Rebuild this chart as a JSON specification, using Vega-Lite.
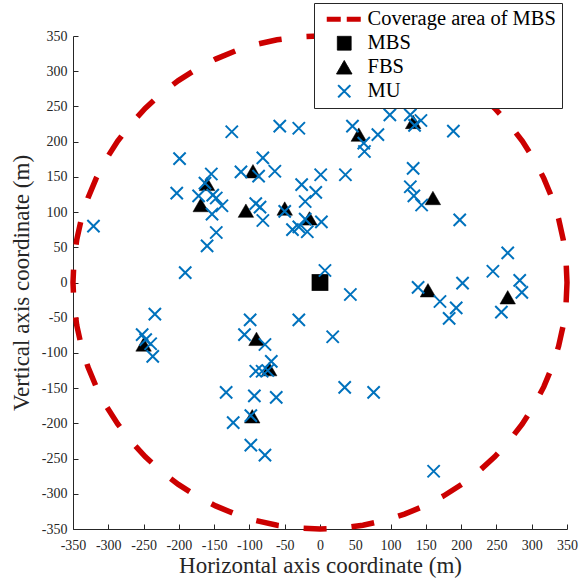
{
  "$schema": "https://vega.github.io/schema/vega-lite/v6.json",
  "autosize": {"type": "none"},
  "padding": {"left": 73, "top": 36, "right": 12, "bottom": 55},
  "width": 494,
  "height": 493,
  "background": "white",
  "config": {
    "view": {"stroke": null},
    "font": "Liberation Serif",
    "axis": {
      "grid": false,
      "domainColor": "#262626",
      "tickColor": "#262626",
      "labelColor": "#262626",
      "titleColor": "#262626",
      "labelFont": "Liberation Serif",
      "titleFont": "Liberation Serif",
      "labelFontSize": 14,
      "titleFontSize": 23,
      "titleFontWeight": "normal",
      "tickSize": -5,
      "domainWidth": 1,
      "tickWidth": 1,
      "labelFlush": false,
      "labelOverlap": false
    }
  },
  "datasets": {
    "circle": [
      {"x": 350, "y": 0, "i": 0, "series": "Coverage area of MBS"},
      {"x": 348.67, "y": 30.5, "i": 1, "series": "Coverage area of MBS"},
      {"x": 344.68, "y": 60.78, "i": 2, "series": "Coverage area of MBS"},
      {"x": 338.07, "y": 90.59, "i": 3, "series": "Coverage area of MBS"},
      {"x": 328.89, "y": 119.71, "i": 4, "series": "Coverage area of MBS"},
      {"x": 317.21, "y": 147.92, "i": 5, "series": "Coverage area of MBS"},
      {"x": 303.11, "y": 175, "i": 6, "series": "Coverage area of MBS"},
      {"x": 286.7, "y": 200.75, "i": 7, "series": "Coverage area of MBS"},
      {"x": 268.12, "y": 224.98, "i": 8, "series": "Coverage area of MBS"},
      {"x": 247.49, "y": 247.49, "i": 9, "series": "Coverage area of MBS"},
      {"x": 224.98, "y": 268.12, "i": 10, "series": "Coverage area of MBS"},
      {"x": 200.75, "y": 286.7, "i": 11, "series": "Coverage area of MBS"},
      {"x": 175, "y": 303.11, "i": 12, "series": "Coverage area of MBS"},
      {"x": 147.92, "y": 317.21, "i": 13, "series": "Coverage area of MBS"},
      {"x": 119.71, "y": 328.89, "i": 14, "series": "Coverage area of MBS"},
      {"x": 90.59, "y": 338.07, "i": 15, "series": "Coverage area of MBS"},
      {"x": 60.78, "y": 344.68, "i": 16, "series": "Coverage area of MBS"},
      {"x": 30.5, "y": 348.67, "i": 17, "series": "Coverage area of MBS"},
      {"x": 0, "y": 350, "i": 18, "series": "Coverage area of MBS"},
      {"x": -30.5, "y": 348.67, "i": 19, "series": "Coverage area of MBS"},
      {"x": -60.78, "y": 344.68, "i": 20, "series": "Coverage area of MBS"},
      {"x": -90.59, "y": 338.07, "i": 21, "series": "Coverage area of MBS"},
      {"x": -119.71, "y": 328.89, "i": 22, "series": "Coverage area of MBS"},
      {"x": -147.92, "y": 317.21, "i": 23, "series": "Coverage area of MBS"},
      {"x": -175, "y": 303.11, "i": 24, "series": "Coverage area of MBS"},
      {"x": -200.75, "y": 286.7, "i": 25, "series": "Coverage area of MBS"},
      {"x": -224.98, "y": 268.12, "i": 26, "series": "Coverage area of MBS"},
      {"x": -247.49, "y": 247.49, "i": 27, "series": "Coverage area of MBS"},
      {"x": -268.12, "y": 224.98, "i": 28, "series": "Coverage area of MBS"},
      {"x": -286.7, "y": 200.75, "i": 29, "series": "Coverage area of MBS"},
      {"x": -303.11, "y": 175, "i": 30, "series": "Coverage area of MBS"},
      {"x": -317.21, "y": 147.92, "i": 31, "series": "Coverage area of MBS"},
      {"x": -328.89, "y": 119.71, "i": 32, "series": "Coverage area of MBS"},
      {"x": -338.07, "y": 90.59, "i": 33, "series": "Coverage area of MBS"},
      {"x": -344.68, "y": 60.78, "i": 34, "series": "Coverage area of MBS"},
      {"x": -348.67, "y": 30.5, "i": 35, "series": "Coverage area of MBS"},
      {"x": -350, "y": 0, "i": 36, "series": "Coverage area of MBS"},
      {"x": -348.67, "y": -30.5, "i": 37, "series": "Coverage area of MBS"},
      {"x": -344.68, "y": -60.78, "i": 38, "series": "Coverage area of MBS"},
      {"x": -338.07, "y": -90.59, "i": 39, "series": "Coverage area of MBS"},
      {"x": -328.89, "y": -119.71, "i": 40, "series": "Coverage area of MBS"},
      {"x": -317.21, "y": -147.92, "i": 41, "series": "Coverage area of MBS"},
      {"x": -303.11, "y": -175, "i": 42, "series": "Coverage area of MBS"},
      {"x": -286.7, "y": -200.75, "i": 43, "series": "Coverage area of MBS"},
      {"x": -268.12, "y": -224.98, "i": 44, "series": "Coverage area of MBS"},
      {"x": -247.49, "y": -247.49, "i": 45, "series": "Coverage area of MBS"},
      {"x": -224.98, "y": -268.12, "i": 46, "series": "Coverage area of MBS"},
      {"x": -200.75, "y": -286.7, "i": 47, "series": "Coverage area of MBS"},
      {"x": -175, "y": -303.11, "i": 48, "series": "Coverage area of MBS"},
      {"x": -147.92, "y": -317.21, "i": 49, "series": "Coverage area of MBS"},
      {"x": -119.71, "y": -328.89, "i": 50, "series": "Coverage area of MBS"},
      {"x": -90.59, "y": -338.07, "i": 51, "series": "Coverage area of MBS"},
      {"x": -60.78, "y": -344.68, "i": 52, "series": "Coverage area of MBS"},
      {"x": -30.5, "y": -348.67, "i": 53, "series": "Coverage area of MBS"},
      {"x": 0, "y": -350, "i": 54, "series": "Coverage area of MBS"},
      {"x": 30.5, "y": -348.67, "i": 55, "series": "Coverage area of MBS"},
      {"x": 60.78, "y": -344.68, "i": 56, "series": "Coverage area of MBS"},
      {"x": 90.59, "y": -338.07, "i": 57, "series": "Coverage area of MBS"},
      {"x": 119.71, "y": -328.89, "i": 58, "series": "Coverage area of MBS"},
      {"x": 147.92, "y": -317.21, "i": 59, "series": "Coverage area of MBS"},
      {"x": 175, "y": -303.11, "i": 60, "series": "Coverage area of MBS"},
      {"x": 200.75, "y": -286.7, "i": 61, "series": "Coverage area of MBS"},
      {"x": 224.98, "y": -268.12, "i": 62, "series": "Coverage area of MBS"},
      {"x": 247.49, "y": -247.49, "i": 63, "series": "Coverage area of MBS"},
      {"x": 268.12, "y": -224.98, "i": 64, "series": "Coverage area of MBS"},
      {"x": 286.7, "y": -200.75, "i": 65, "series": "Coverage area of MBS"},
      {"x": 303.11, "y": -175, "i": 66, "series": "Coverage area of MBS"},
      {"x": 317.21, "y": -147.92, "i": 67, "series": "Coverage area of MBS"},
      {"x": 328.89, "y": -119.71, "i": 68, "series": "Coverage area of MBS"},
      {"x": 338.07, "y": -90.59, "i": 69, "series": "Coverage area of MBS"},
      {"x": 344.68, "y": -60.78, "i": 70, "series": "Coverage area of MBS"},
      {"x": 348.67, "y": -30.5, "i": 71, "series": "Coverage area of MBS"},
      {"x": 350, "y": 0, "i": 72, "series": "Coverage area of MBS"}
    ],
    "mbs": [{"x": 0, "y": 0, "series": "MBS"}],
    "fbs": [
      {"x": -95, "y": 158, "series": "FBS"},
      {"x": -160, "y": 140, "series": "FBS"},
      {"x": -169, "y": 110, "series": "FBS"},
      {"x": -105, "y": 102, "series": "FBS"},
      {"x": -50, "y": 105, "series": "FBS"},
      {"x": -15, "y": 91, "series": "FBS"},
      {"x": 55, "y": 210, "series": "FBS"},
      {"x": 132, "y": 228, "series": "FBS"},
      {"x": 160, "y": 120, "series": "FBS"},
      {"x": 153, "y": -11, "series": "FBS"},
      {"x": 266, "y": -21, "series": "FBS"},
      {"x": -90, "y": -80, "series": "FBS"},
      {"x": -72, "y": -123, "series": "FBS"},
      {"x": -96, "y": -190, "series": "FBS"},
      {"x": -250, "y": -88, "series": "FBS"}
    ],
    "mu": [
      {"x": -321, "y": 80, "series": "MU"},
      {"x": -125, "y": 214, "series": "MU"},
      {"x": -57, "y": 222, "series": "MU"},
      {"x": -30, "y": 219, "series": "MU"},
      {"x": -199, "y": 176, "series": "MU"},
      {"x": -81, "y": 177, "series": "MU"},
      {"x": -112, "y": 157, "series": "MU"},
      {"x": -87, "y": 151, "series": "MU"},
      {"x": -64, "y": 158, "series": "MU"},
      {"x": 1, "y": 153, "series": "MU"},
      {"x": -154, "y": 154, "series": "MU"},
      {"x": -163, "y": 141, "series": "MU"},
      {"x": -203, "y": 127, "series": "MU"},
      {"x": -172, "y": 123, "series": "MU"},
      {"x": -152, "y": 124, "series": "MU"},
      {"x": -147, "y": 120, "series": "MU"},
      {"x": -139, "y": 109, "series": "MU"},
      {"x": -153, "y": 97, "series": "MU"},
      {"x": -91, "y": 112, "series": "MU"},
      {"x": -85, "y": 107, "series": "MU"},
      {"x": -81, "y": 88, "series": "MU"},
      {"x": -26, "y": 139, "series": "MU"},
      {"x": -6, "y": 128, "series": "MU"},
      {"x": -21, "y": 115, "series": "MU"},
      {"x": -50, "y": 101, "series": "MU"},
      {"x": -21, "y": 90, "series": "MU"},
      {"x": 2, "y": 86, "series": "MU"},
      {"x": -39, "y": 75, "series": "MU"},
      {"x": -18, "y": 72, "series": "MU"},
      {"x": -30, "y": 79, "series": "MU"},
      {"x": -147, "y": 71, "series": "MU"},
      {"x": -160, "y": 52, "series": "MU"},
      {"x": -191, "y": 14, "series": "MU"},
      {"x": 46, "y": 222, "series": "MU"},
      {"x": 99, "y": 238, "series": "MU"},
      {"x": 128, "y": 238, "series": "MU"},
      {"x": 134, "y": 223, "series": "MU"},
      {"x": 143, "y": 230, "series": "MU"},
      {"x": 82, "y": 210, "series": "MU"},
      {"x": 189, "y": 215, "series": "MU"},
      {"x": 62, "y": 198, "series": "MU"},
      {"x": 63, "y": 186, "series": "MU"},
      {"x": 36, "y": 153, "series": "MU"},
      {"x": 132, "y": 162, "series": "MU"},
      {"x": 128, "y": 136, "series": "MU"},
      {"x": 133, "y": 123, "series": "MU"},
      {"x": 144, "y": 110, "series": "MU"},
      {"x": 198, "y": 89, "series": "MU"},
      {"x": 266, "y": 42, "series": "MU"},
      {"x": 245, "y": 16, "series": "MU"},
      {"x": 283, "y": 3, "series": "MU"},
      {"x": 286, "y": -14, "series": "MU"},
      {"x": 257, "y": -42, "series": "MU"},
      {"x": 139, "y": -7, "series": "MU"},
      {"x": 170, "y": -27, "series": "MU"},
      {"x": 202, "y": -1, "series": "MU"},
      {"x": 193, "y": -36, "series": "MU"},
      {"x": 183, "y": -51, "series": "MU"},
      {"x": 7, "y": 17, "series": "MU"},
      {"x": 43, "y": -17, "series": "MU"},
      {"x": 18, "y": -77, "series": "MU"},
      {"x": 35, "y": -149, "series": "MU"},
      {"x": 76, "y": -156, "series": "MU"},
      {"x": 161, "y": -268, "series": "MU"},
      {"x": -30, "y": -53, "series": "MU"},
      {"x": -99, "y": -53, "series": "MU"},
      {"x": -107, "y": -74, "series": "MU"},
      {"x": -78, "y": -88, "series": "MU"},
      {"x": -69, "y": -112, "series": "MU"},
      {"x": -91, "y": -126, "series": "MU"},
      {"x": -82, "y": -126, "series": "MU"},
      {"x": -74, "y": -125, "series": "MU"},
      {"x": -133, "y": -156, "series": "MU"},
      {"x": -93, "y": -161, "series": "MU"},
      {"x": -62, "y": -163, "series": "MU"},
      {"x": -98, "y": -189, "series": "MU"},
      {"x": -123, "y": -199, "series": "MU"},
      {"x": -98, "y": -231, "series": "MU"},
      {"x": -78, "y": -245, "series": "MU"},
      {"x": -234, "y": -45, "series": "MU"},
      {"x": -252, "y": -74, "series": "MU"},
      {"x": -247, "y": -81, "series": "MU"},
      {"x": -240, "y": -87, "series": "MU"},
      {"x": -237, "y": -105, "series": "MU"}
    ]
  },
  "encoding": {
    "x": {
      "field": "x",
      "type": "quantitative",
      "scale": {"domain": [-350, 350], "nice": false, "zero": false},
      "axis": {
        "title": "Horizontal axis coordinate (m)",
        "values": [-350, -300, -250, -200, -150, -100, -50, 0, 50, 100, 150, 200, 250, 300, 350],
        "labelExpr": "datum.value + ''",
        "labelPadding": 14,
        "titlePadding": 2
      }
    },
    "y": {
      "field": "y",
      "type": "quantitative",
      "scale": {"domain": [-350, 350], "nice": false, "zero": false},
      "axis": {
        "title": "Vertical axis coordinate (m)",
        "values": [-350, -300, -250, -200, -150, -100, -50, 0, 50, 100, 150, 200, 250, 300, 350],
        "labelExpr": "datum.value + ''",
        "labelPadding": 11,
        "titlePadding": 8
      }
    },
    "color": {
      "field": "series",
      "type": "nominal",
      "scale": {
        "domain": ["Coverage area of MBS", "MBS", "FBS", "MU"],
        "range": ["#CC0000", "#000000", "#000000", "#0072BD"]
      },
      "legend": {
        "title": null,
        "orient": "none",
        "legendX": 241,
        "legendY": -33,
        "fillColor": "white",
        "strokeColor": "#262626",
        "padding": 6,
        "labelFont": "Liberation Serif",
        "labelFontSize": 20.5,
        "labelColor": "#000000",
        "labelLimit": 400,
        "symbolSize": 200,
        "symbolOffset": 14,
        "labelOffset": 13,
        "rowPadding": 3,
        "encode": {
          "symbols": {
            "update": {
              "size": {"signal": "datum.value === 'Coverage area of MBS' ? 1225 : datum.value === 'MBS' ? 190 : datum.value === 'FBS' ? 240 : 150"},
              "fill": {"signal": "datum.value === 'MBS' || datum.value === 'FBS' ? '#000000' : 'transparent'"},
              "stroke": {"signal": "datum.value === 'Coverage area of MBS' ? '#CC0000' : datum.value === 'MU' ? '#0072BD' : '#000000'"},
              "strokeWidth": {"signal": "datum.value === 'Coverage area of MBS' ? 5 : datum.value === 'MU' ? 2 : 1"},
              "strokeDash": {"signal": "datum.value === 'Coverage area of MBS' ? [14, 6] : [1, 0]"},
              "opacity": {"value": 1}
            }
          }
        }
      }
    },
    "shape": {
      "field": "series",
      "type": "nominal",
      "scale": {
        "domain": ["Coverage area of MBS", "MBS", "FBS", "MU"],
        "range": ["stroke", "square", "triangle-up", "M-1,-1L1,1M1,-1L-1,1"]
      },
      "legend": null
    }
  },
  "layer": [
    {
      "data": {"name": "circle"},
      "mark": {"type": "line", "strokeWidth": 5.5, "strokeDash": [23, 25], "strokeDashOffset": 6, "strokeCap": "butt"},
      "encoding": {
        "order": {"field": "i", "type": "quantitative"},
        "shape": null
      }
    },
    {
      "data": {"name": "mbs"},
      "mark": {"type": "point", "filled": true, "size": 280, "opacity": 1}
    },
    {
      "data": {"name": "fbs"},
      "mark": {"type": "point", "filled": true, "size": 240, "opacity": 1, "stroke": "#000000", "strokeWidth": 0.5}
    },
    {
      "data": {"name": "mu"},
      "mark": {"type": "point", "filled": false, "size": 150, "strokeWidth": 2, "opacity": 1}
    }
  ]
}
